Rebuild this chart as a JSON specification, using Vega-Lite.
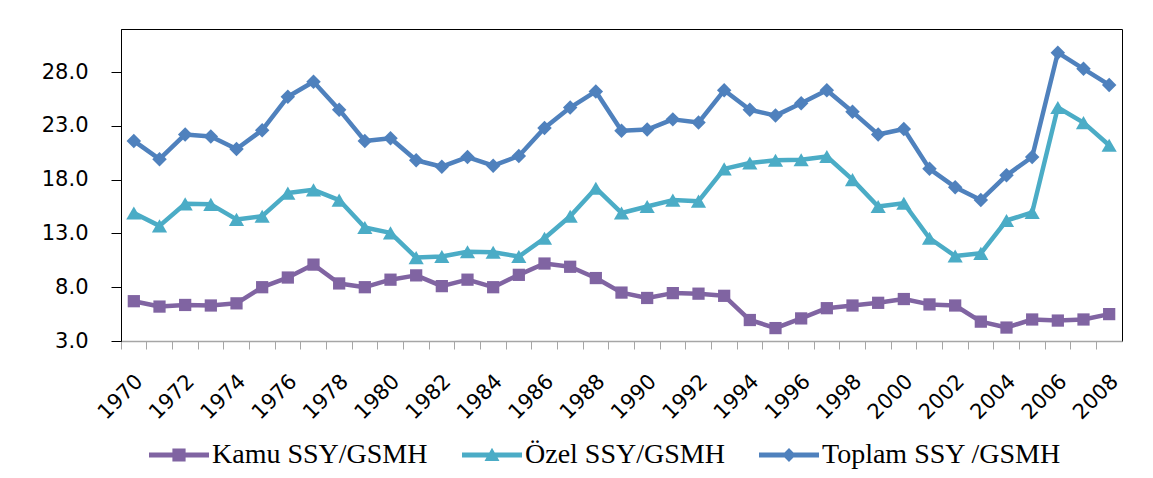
{
  "$schema": "https://vega.github.io/schema/vega-lite/v6.json",
  "width": 1001,
  "height": 312,
  "autosize": {"type": "none"},
  "padding": {"left": 121, "top": 29, "right": 31, "bottom": 137},
  "background": "#ffffff",
  "config": {
    "view": {"stroke": "#000000", "strokeWidth": 1},
    "axis": {"grid": false}
  },
  "data": {
    "values": [
      {"year": 1970, "series": "Kamu SSY/GSMH", "value": 6.7},
      {"year": 1971, "series": "Kamu SSY/GSMH", "value": 6.2},
      {"year": 1972, "series": "Kamu SSY/GSMH", "value": 6.35},
      {"year": 1973, "series": "Kamu SSY/GSMH", "value": 6.3},
      {"year": 1974, "series": "Kamu SSY/GSMH", "value": 6.5},
      {"year": 1975, "series": "Kamu SSY/GSMH", "value": 8.0},
      {"year": 1976, "series": "Kamu SSY/GSMH", "value": 8.9},
      {"year": 1977, "series": "Kamu SSY/GSMH", "value": 10.1},
      {"year": 1978, "series": "Kamu SSY/GSMH", "value": 8.35},
      {"year": 1979, "series": "Kamu SSY/GSMH", "value": 8.0},
      {"year": 1980, "series": "Kamu SSY/GSMH", "value": 8.7},
      {"year": 1981, "series": "Kamu SSY/GSMH", "value": 9.1},
      {"year": 1982, "series": "Kamu SSY/GSMH", "value": 8.1},
      {"year": 1983, "series": "Kamu SSY/GSMH", "value": 8.7},
      {"year": 1984, "series": "Kamu SSY/GSMH", "value": 8.0},
      {"year": 1985, "series": "Kamu SSY/GSMH", "value": 9.15},
      {"year": 1986, "series": "Kamu SSY/GSMH", "value": 10.2},
      {"year": 1987, "series": "Kamu SSY/GSMH", "value": 9.9},
      {"year": 1988, "series": "Kamu SSY/GSMH", "value": 8.85},
      {"year": 1989, "series": "Kamu SSY/GSMH", "value": 7.5},
      {"year": 1990, "series": "Kamu SSY/GSMH", "value": 7.0},
      {"year": 1991, "series": "Kamu SSY/GSMH", "value": 7.45},
      {"year": 1992, "series": "Kamu SSY/GSMH", "value": 7.4},
      {"year": 1993, "series": "Kamu SSY/GSMH", "value": 7.2},
      {"year": 1994, "series": "Kamu SSY/GSMH", "value": 4.95},
      {"year": 1995, "series": "Kamu SSY/GSMH", "value": 4.2},
      {"year": 1996, "series": "Kamu SSY/GSMH", "value": 5.1},
      {"year": 1997, "series": "Kamu SSY/GSMH", "value": 6.05},
      {"year": 1998, "series": "Kamu SSY/GSMH", "value": 6.3},
      {"year": 1999, "series": "Kamu SSY/GSMH", "value": 6.55},
      {"year": 2000, "series": "Kamu SSY/GSMH", "value": 6.9},
      {"year": 2001, "series": "Kamu SSY/GSMH", "value": 6.4},
      {"year": 2002, "series": "Kamu SSY/GSMH", "value": 6.3},
      {"year": 2003, "series": "Kamu SSY/GSMH", "value": 4.8},
      {"year": 2004, "series": "Kamu SSY/GSMH", "value": 4.25},
      {"year": 2005, "series": "Kamu SSY/GSMH", "value": 5.0},
      {"year": 2006, "series": "Kamu SSY/GSMH", "value": 4.9},
      {"year": 2007, "series": "Kamu SSY/GSMH", "value": 5.0},
      {"year": 2008, "series": "Kamu SSY/GSMH", "value": 5.5},
      {"year": 1970, "series": "Özel SSY/GSMH", "value": 14.9},
      {"year": 1971, "series": "Özel SSY/GSMH", "value": 13.7},
      {"year": 1972, "series": "Özel SSY/GSMH", "value": 15.75},
      {"year": 1973, "series": "Özel SSY/GSMH", "value": 15.7},
      {"year": 1974, "series": "Özel SSY/GSMH", "value": 14.3},
      {"year": 1975, "series": "Özel SSY/GSMH", "value": 14.6},
      {"year": 1976, "series": "Özel SSY/GSMH", "value": 16.75},
      {"year": 1977, "series": "Özel SSY/GSMH", "value": 17.05},
      {"year": 1978, "series": "Özel SSY/GSMH", "value": 16.1},
      {"year": 1979, "series": "Özel SSY/GSMH", "value": 13.55},
      {"year": 1980, "series": "Özel SSY/GSMH", "value": 13.05},
      {"year": 1981, "series": "Özel SSY/GSMH", "value": 10.75},
      {"year": 1982, "series": "Özel SSY/GSMH", "value": 10.85},
      {"year": 1983, "series": "Özel SSY/GSMH", "value": 11.3},
      {"year": 1984, "series": "Özel SSY/GSMH", "value": 11.25},
      {"year": 1985, "series": "Özel SSY/GSMH", "value": 10.85},
      {"year": 1986, "series": "Özel SSY/GSMH", "value": 12.55},
      {"year": 1987, "series": "Özel SSY/GSMH", "value": 14.6},
      {"year": 1988, "series": "Özel SSY/GSMH", "value": 17.2},
      {"year": 1989, "series": "Özel SSY/GSMH", "value": 14.9},
      {"year": 1990, "series": "Özel SSY/GSMH", "value": 15.5},
      {"year": 1991, "series": "Özel SSY/GSMH", "value": 16.1},
      {"year": 1992, "series": "Özel SSY/GSMH", "value": 16.0},
      {"year": 1993, "series": "Özel SSY/GSMH", "value": 19.0},
      {"year": 1994, "series": "Özel SSY/GSMH", "value": 19.55},
      {"year": 1995, "series": "Özel SSY/GSMH", "value": 19.8},
      {"year": 1996, "series": "Özel SSY/GSMH", "value": 19.85},
      {"year": 1997, "series": "Özel SSY/GSMH", "value": 20.15},
      {"year": 1998, "series": "Özel SSY/GSMH", "value": 18.0},
      {"year": 1999, "series": "Özel SSY/GSMH", "value": 15.5},
      {"year": 2000, "series": "Özel SSY/GSMH", "value": 15.8},
      {"year": 2001, "series": "Özel SSY/GSMH", "value": 12.55},
      {"year": 2002, "series": "Özel SSY/GSMH", "value": 10.9},
      {"year": 2003, "series": "Özel SSY/GSMH", "value": 11.15},
      {"year": 2004, "series": "Özel SSY/GSMH", "value": 14.2},
      {"year": 2005, "series": "Özel SSY/GSMH", "value": 14.95},
      {"year": 2006, "series": "Özel SSY/GSMH", "value": 24.7},
      {"year": 2007, "series": "Özel SSY/GSMH", "value": 23.3},
      {"year": 2008, "series": "Özel SSY/GSMH", "value": 21.2},
      {"year": 1970, "series": "Toplam SSY /GSMH", "value": 21.6},
      {"year": 1971, "series": "Toplam SSY /GSMH", "value": 19.9},
      {"year": 1972, "series": "Toplam SSY /GSMH", "value": 22.2},
      {"year": 1973, "series": "Toplam SSY /GSMH", "value": 22.0},
      {"year": 1974, "series": "Toplam SSY /GSMH", "value": 20.85},
      {"year": 1975, "series": "Toplam SSY /GSMH", "value": 22.6},
      {"year": 1976, "series": "Toplam SSY /GSMH", "value": 25.7},
      {"year": 1977, "series": "Toplam SSY /GSMH", "value": 27.1},
      {"year": 1978, "series": "Toplam SSY /GSMH", "value": 24.5},
      {"year": 1979, "series": "Toplam SSY /GSMH", "value": 21.6},
      {"year": 1980, "series": "Toplam SSY /GSMH", "value": 21.85},
      {"year": 1981, "series": "Toplam SSY /GSMH", "value": 19.8},
      {"year": 1982, "series": "Toplam SSY /GSMH", "value": 19.2},
      {"year": 1983, "series": "Toplam SSY /GSMH", "value": 20.1},
      {"year": 1984, "series": "Toplam SSY /GSMH", "value": 19.3},
      {"year": 1985, "series": "Toplam SSY /GSMH", "value": 20.2},
      {"year": 1986, "series": "Toplam SSY /GSMH", "value": 22.8},
      {"year": 1987, "series": "Toplam SSY /GSMH", "value": 24.7},
      {"year": 1988, "series": "Toplam SSY /GSMH", "value": 26.2},
      {"year": 1989, "series": "Toplam SSY /GSMH", "value": 22.55},
      {"year": 1990, "series": "Toplam SSY /GSMH", "value": 22.65},
      {"year": 1991, "series": "Toplam SSY /GSMH", "value": 23.6},
      {"year": 1992, "series": "Toplam SSY /GSMH", "value": 23.3},
      {"year": 1993, "series": "Toplam SSY /GSMH", "value": 26.3},
      {"year": 1994, "series": "Toplam SSY /GSMH", "value": 24.5},
      {"year": 1995, "series": "Toplam SSY /GSMH", "value": 23.95},
      {"year": 1996, "series": "Toplam SSY /GSMH", "value": 25.1},
      {"year": 1997, "series": "Toplam SSY /GSMH", "value": 26.3},
      {"year": 1998, "series": "Toplam SSY /GSMH", "value": 24.3},
      {"year": 1999, "series": "Toplam SSY /GSMH", "value": 22.2},
      {"year": 2000, "series": "Toplam SSY /GSMH", "value": 22.7},
      {"year": 2001, "series": "Toplam SSY /GSMH", "value": 19.0},
      {"year": 2002, "series": "Toplam SSY /GSMH", "value": 17.3},
      {"year": 2003, "series": "Toplam SSY /GSMH", "value": 16.1},
      {"year": 2004, "series": "Toplam SSY /GSMH", "value": 18.4},
      {"year": 2005, "series": "Toplam SSY /GSMH", "value": 20.1},
      {"year": 2006, "series": "Toplam SSY /GSMH", "value": 29.8},
      {"year": 2007, "series": "Toplam SSY /GSMH", "value": 28.3},
      {"year": 2008, "series": "Toplam SSY /GSMH", "value": 26.8}
    ]
  },
  "encoding": {
    "x": {
      "field": "year",
      "type": "ordinal",
      "bandPosition": 0.5,
      "scale": {"type": "band", "paddingInner": 0, "paddingOuter": 0},
      "axis": {
        "title": null,
        "bandPosition": 0,
        "labelAngle": -45,
        "labelAlign": "right",
        "labelBaseline": "middle",
        "labelOffset": 6,
        "labelPadding": 29,
        "labelExpr": "toNumber(datum.value) % 2 == 0 ? datum.label : ''",
        "labelFont": "DejaVu Sans",
        "labelFontSize": 21,
        "labelColor": "#000000",
        "labelOverlap": false,
        "labelBound": false,
        "tickSize": 8,
        "tickColor": "#a6a6a6",
        "tickWidth": 1,
        "domainColor": "#a6a6a6",
        "domainWidth": 1.5,
        "zindex": 1
      }
    },
    "y": {
      "field": "value",
      "type": "quantitative",
      "scale": {"domain": [3, 32], "nice": false, "zero": false},
      "axis": {
        "title": null,
        "values": [3, 8, 13, 18, 23, 28],
        "format": ".1f",
        "labelFont": "DejaVu Sans",
        "labelFontSize": 21,
        "labelColor": "#000000",
        "labelPadding": 23,
        "tickSize": 10,
        "tickColor": "#000000",
        "domainColor": "#000000",
        "zindex": 1
      }
    }
  },
  "layer": [
    {
      "mark": {"type": "line", "strokeWidth": 4.5, "strokeJoin": "round", "strokeCap": "round"},
      "encoding": {
        "color": {
          "field": "series",
          "type": "nominal",
          "scale": {
            "domain": ["Kamu SSY/GSMH", "Özel SSY/GSMH", "Toplam SSY /GSMH"],
            "range": ["#8064A2", "#4BACC6", "#4F81BD"]
          },
          "legend": {
            "orient": "none",
            "legendX": 28,
            "legendY": 396,
            "direction": "horizontal",
            "title": null,
            "padding": 0,
            "labelFont": "Liberation Serif",
            "labelFontSize": 28,
            "labelColor": "#000000",
            "labelOffset": 3,
            "labelLimit": 500,
            "columnPadding": 34,
            "symbolSize": 3600,
            "symbolStrokeWidth": 0,
            "encode": {
              "symbols": {
                "update": {
                  "shape": {"signal": "datum.value == 'Kamu SSY/GSMH' ? 'M-1,-0.083H1V0.083H-1Z M-0.22,-0.22H0.22V0.22H-0.22Z' : datum.value == 'Özel SSY/GSMH' ? 'M-1,-0.083H1V0.083H-1Z M0,-0.24L0.25,0.2L-0.25,0.2Z' : 'M-1,-0.083H1V0.083H-1Z M0,-0.23L0.23,0L0,0.23L-0.23,0Z'"},
                  "fill": {"scale": "color", "field": "value"},
                  "stroke": {"value": "transparent"},
                  "strokeWidth": {"value": 0},
                  "opacity": {"value": 1},
                  "size": {"value": 3600}
                }
              }
            }
          }
        }
      }
    },
    {
      "transform": [{"filter": "datum.series == 'Kamu SSY/GSMH'"}],
      "mark": {"type": "point", "filled": true, "opacity": 1, "shape": "square", "size": 150, "color": "#8064A2"}
    },
    {
      "transform": [{"filter": "datum.series == 'Özel SSY/GSMH'"}],
      "mark": {"type": "point", "filled": true, "opacity": 1, "shape": "triangle-up", "size": 230, "color": "#4BACC6"}
    },
    {
      "transform": [{"filter": "datum.series == 'Toplam SSY /GSMH'"}],
      "mark": {"type": "point", "filled": true, "opacity": 1, "shape": "diamond", "size": 210, "color": "#4F81BD"}
    }
  ]
}
